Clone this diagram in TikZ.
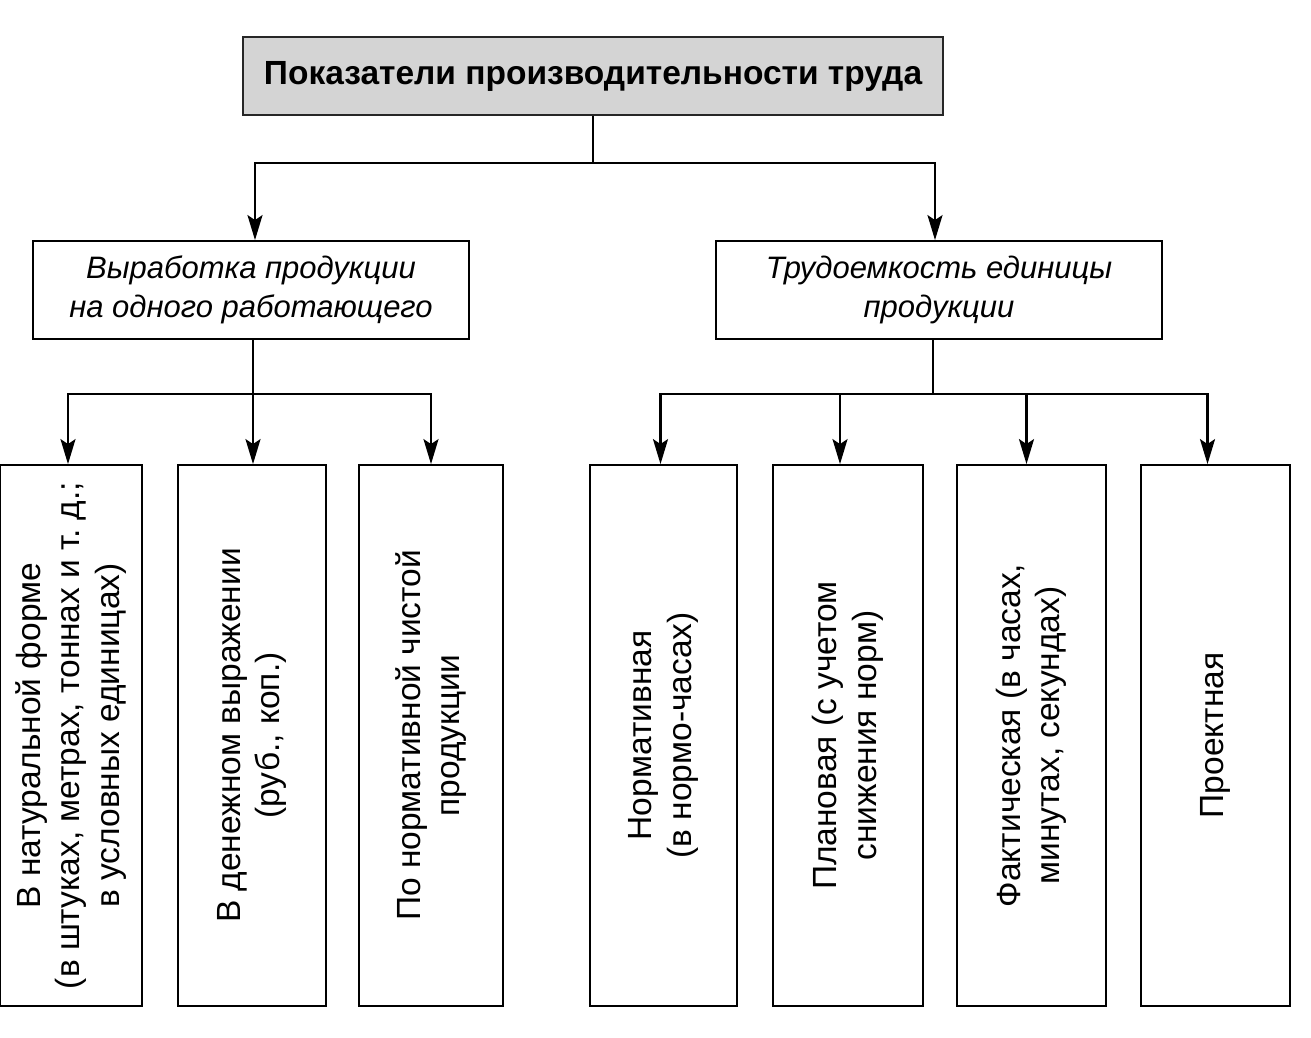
\documentclass[tikz,border=0pt]{standalone}
\usepackage{fontspec}
\setmainfont{Liberation Sans}
\usetikzlibrary{arrows.meta}
\frenchspacing
\begin{document}
\begin{tikzpicture}[x=1pt,y=-1pt,
  box/.style={draw, line width=1.8pt, inner sep=0pt},
  conn/.style={line width=2.3pt},
  arr/.style={line width=2.3pt, line join=miter, -{Stealth[length=25pt,width=15pt,inset=5pt]}},
  vtext/.style={rotate=90, align=center, font=\fontsize{33.5}{39.5}\selectfont, inner sep=0pt},
  midtext/.style={align=center, font=\fontsize{31}{39}\selectfont\itshape, inner sep=0pt}]
\useasboundingbox (0,0) rectangle (1311,1038);
\fill[white] (0,0) rectangle (1311,1038);
% top
\node[box, draw=black!85, fill=black!17, line width=1.4pt, minimum width=700pt, minimum height=78pt,
      font=\fontsize{33.5}{38}\selectfont\bfseries] (top) at (593,76) {Показатели производительности труда};
% level 2
\node[box, minimum width=436pt, minimum height=98pt] (left) at (251,290) {};
\node[midtext] (lefttxt) at (left.center) {Выработка продукции\\на одного работающего};
\node[box, minimum width=446pt, minimum height=98pt] (right) at (939,290) {};
\node[midtext] (righttxt) at (right.center) {Трудоемкость единицы\\продукции};
% level 3 boxes
\node[box, minimum width=142pt, minimum height=541pt] (b1) at (71,735.5) {};
\node[box, minimum width=148pt, minimum height=541pt] (b2) at (252,735.5) {};
\node[box, minimum width=144pt, minimum height=541pt] (b3) at (431,735.5) {};
\node[box, minimum width=147pt, minimum height=541pt] (b4) at (663.5,735.5) {};
\node[box, minimum width=150pt, minimum height=541pt] (b5) at (848,735.5) {};
\node[box, minimum width=149pt, minimum height=541pt] (b6) at (1031.5,735.5) {};
\node[box, minimum width=149pt, minimum height=541pt] (b7) at (1215.5,735.5) {};
\node[vtext] (t1) at (b1.center) {В натуральной форме\\(в штуках, метрах, тоннах и т.\ д.;\\в условных единицах)};
\node[vtext] (t2) at (b2.center) {В денежном выражении\\(руб., коп.)};
\node[vtext] (t3) at (b3.center) {По нормативной чистой\\продукции};
\node[vtext] (t4) at (b4.center) {Нормативная\\(в нормо-часах)};
\node[vtext] (t5) at (b5.center) {Плановая (с учетом\\снижения норм)};
\node[vtext] (t6) at (b6.center) {Фактическая (в часах,\\минутах, секундах)};
\node[vtext] (t7) at (b7.center) {Проектная};
% connectors
\coordinate (j1) at (593,163);
\draw[conn] (top.south) -- (j1);
\draw[arr] (j1) -| ([xshift=4pt]left.north);
\draw[arr] (j1) -| ([xshift=-4pt]right.north);
\coordinate (j2) at (253,394);
\draw[conn] ([xshift=2pt]left.south) -- (j2);
\draw[arr] (j2) -| ([xshift=-3pt]b1.north);
\draw[arr] (j2) -- (b2.north -| j2);
\draw[arr] (j2) -| (b3.north);
\coordinate (j3) at (933,394);
\draw[conn] ([xshift=-6pt]right.south) -- (j3);
\draw[arr] (j3) -| ([xshift=-3pt]b4.north);
\draw[arr] (j3) -| ([xshift=-8pt]b5.north);
\draw[arr] (j3) -| ([xshift=-5pt]b6.north);
\draw[arr] (j3) -| ([xshift=-8pt]b7.north);
\end{tikzpicture}
\end{document}
